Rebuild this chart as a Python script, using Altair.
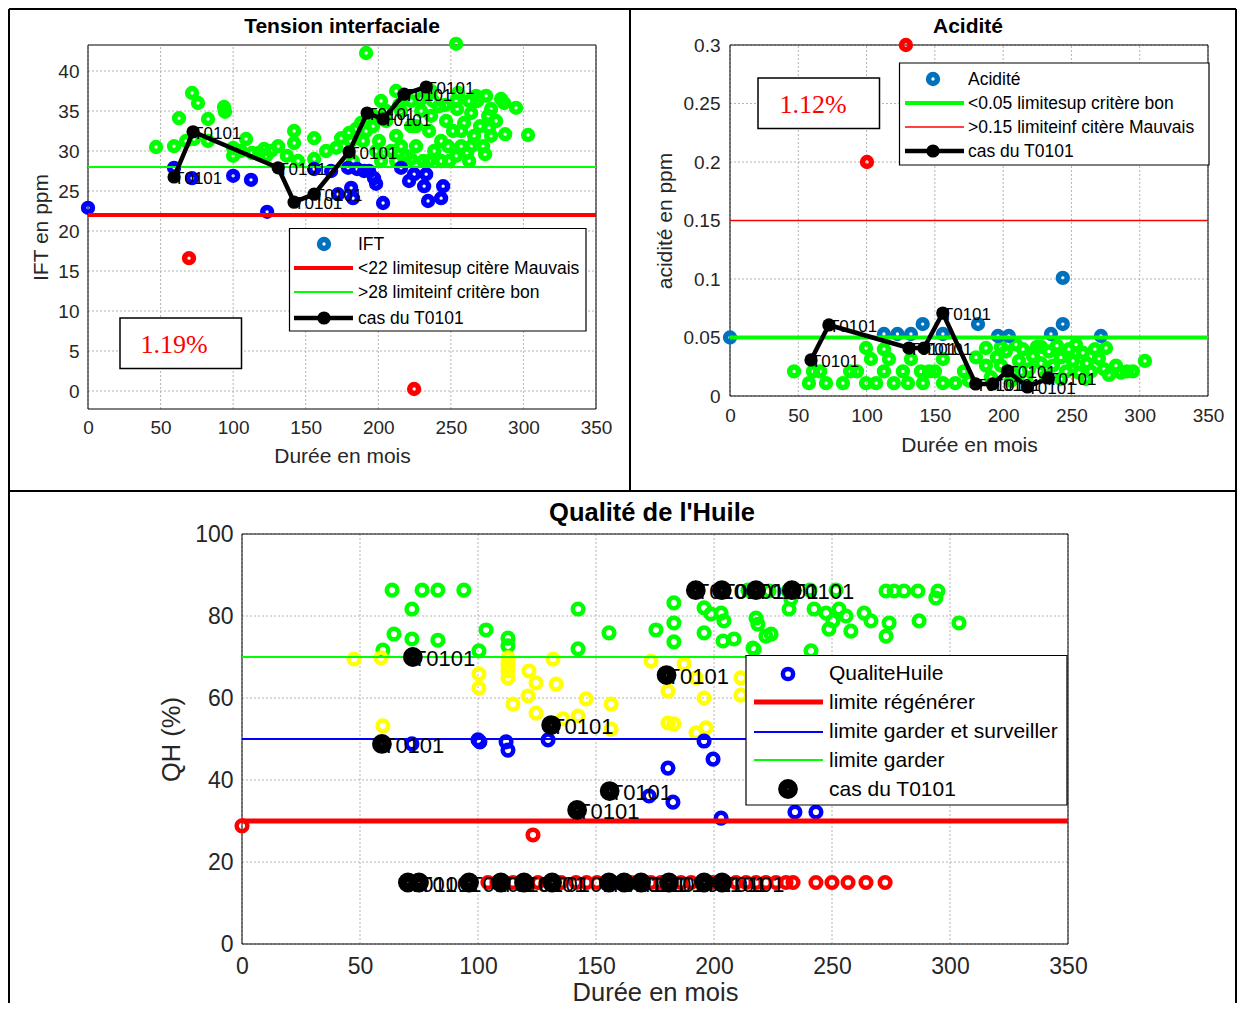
import altair as alt
import pandas as pd

FONT = "Liberation Sans"
SERIF = "Liberation Serif"
GREEN = "#00ff00"
BLUE = "#0000ff"
RED = "#ff0000"
MBLUE = "#0072bd"
YELLOW = "#ffff00"
BLACK = "#000000"
TICK = "#262626"
GRID = "#b4b4b4"

# ---------------- common: transformer T0101 ----------------
t0101_months = [59.3, 72.4, 131.0, 142.0, 155.8, 179.9, 192.3, 203.3, 217.8, 233.0]

# ---------------- Panel 1 : Tension interfaciale ----------------
ift_good_x = [46.9, 59.3, 62.7, 71.7, 75.8, 82.7, 93.7, 94.4, 73.0, 82.7, 67.5, 100.0, 108.9, 113.0,
              121.3, 126.0, 131.0, 142.0, 142.0, 155.8, 144.7, 155.8, 137.0, 105.4, 117.9, 100.0, 122.7,
              174.4, 171.0, 164.0, 191.6, 253.6, 181.0, 184.7, 191.6, 196.4, 200.5, 205.4, 208.8, 212.3,
              215.7, 219.2, 222.6, 226.0, 229.5, 230.9, 235.0, 238.5, 241.9, 243.3, 246.7, 248.8, 251.5,
              254.3, 257.1, 259.1, 261.2, 264.0, 266.0, 268.1, 270.1, 272.2, 274.3, 275.7, 277.7, 273.6,
              281.2, 286.7, 294.9, 287.4, 303.2, 277.7, 262.6, 253.6, 246.0, 237.8, 229.5, 222.6, 214.3,
              205.4, 196.4, 189.5, 198.5, 201.9, 212.3, 222.6, 235.0, 243.3, 253.6, 262.6, 201.9, 212.3,
              236.4, 255.0, 267.4, 284.6, 264.0, 248.0, 215.7, 182.6, 188.1, 179.9, 236.4, 226.0, 257.1,
              276.3]
ift_good_y = [30.5, 30.6, 34.1, 37.25, 36.0, 34.0, 35.5, 34.9, 31.5, 31.25, 31.25, 30.4, 31.5, 29.75,
              30.25, 30.0, 30.6, 32.5, 31.0, 31.6, 28.75, 29.0, 29.4, 30.0, 29.75, 29.4, 29.4,
              31.6, 30.4, 30.0, 42.25, 43.4, 31.25, 32.75, 32.5, 33.1, 31.25, 33.75, 30.0, 31.9,
              35.0, 29.4, 33.1, 30.6, 35.0, 28.75, 32.5, 30.0, 35.6, 31.25, 33.75, 28.75, 32.5,
              35.25, 30.6, 33.5, 29.75, 34.75, 31.9, 36.25, 33.1, 30.6, 36.9, 34.4, 31.9, 29.6,
              33.75, 36.0, 35.4, 32.1, 32.0, 35.25, 36.25, 36.25, 35.75, 36.25, 36.5, 36.25, 35.75,
              35.0, 34.4, 31.25, 30.0, 28.75, 28.75, 29.0, 28.75, 28.75, 29.4, 28.75, 36.25, 37.5,
              37.5, 37.25, 36.9, 36.5, 30.6, 30.6, 30.6, 28.75, 33.5, 32.25, 34.4, 33.1, 32.5,
              32.9]
ift_mid_x = [0.0, 59.3, 71.7, 100.0, 112.3, 123.4, 155.8, 172.3, 181.3, 182.6, 179.2, 190.2, 197.1,
             198.5, 203.3, 215.7, 221.2, 224.7, 231.6, 233.0, 234.3, 243.3, 244.7, 185.4, 193.7, 167.5]
ift_mid_y = [22.9, 27.9, 26.6, 26.9, 26.4, 22.4, 27.75, 24.6, 25.4, 24.1, 27.9, 27.5, 26.6,
             25.9, 23.5, 27.9, 26.25, 27.1, 25.6, 27.1, 23.75, 24.1, 25.6, 27.75, 27.5, 27.5]
ift_bad_x = [69.6, 224.7]
ift_bad_y = [16.6, 0.25]
ift_t0101 = [26.75, 32.4, 27.9, 23.6, 24.6, 29.9, 34.75, 34.0, 37.1, 38.0]
ift_limit_bad = 22
ift_limit_good = 28
ift_ticks = [0, 5, 10, 15, 20, 25, 30, 35, 40]
ift_range = [-2.25, 43.25]

# ---------------- Panel 2 : Acidite ----------------
acid_good_x = [46.9, 57.8, 60.8, 70.3, 82.7, 93.0, 99.6, 99.6, 112.7, 112.7, 120.0, 130.3, 126.6, 139.8,
               145.7, 141.3, 155.9, 155.9, 171.3, 187.4, 103.2, 116.4, 132.5, 175.0, 191.0, 195.5, 198.4,
               202.0, 207.2, 211.6, 214.5, 218.9, 221.8, 224.7, 227.7, 231.3, 233.5, 236.5, 239.4, 242.3,
               246.0, 248.2, 251.1, 255.5, 258.4, 261.3, 264.3, 267.2, 270.1, 273.8, 277.5, 282.6, 286.2,
               290.6, 295.0, 303.8, 205.7, 216.7, 242.3, 260.6, 187.4, 180.1, 198.4, 209.4, 227.7, 253.3,
               275.3, 66.0, 88.0, 107.0, 150.0, 165.0]
acid_good_y = [0.021, 0.011, 0.021, 0.011, 0.011, 0.021, 0.041, 0.011, 0.040, 0.021, 0.011, 0.011, 0.021,
               0.021, 0.021, 0.011, 0.011, 0.0316, 0.021, 0.041, 0.0316, 0.0316, 0.0316, 0.013, 0.016,
               0.033, 0.026, 0.038, 0.020, 0.030, 0.040, 0.023, 0.034, 0.042, 0.028, 0.017, 0.038, 0.026,
               0.043, 0.033, 0.021, 0.040, 0.030, 0.020, 0.037, 0.028, 0.021, 0.040, 0.032, 0.023, 0.018,
               0.026, 0.020, 0.021, 0.021, 0.030, 0.013, 0.0145, 0.0145, 0.0145, 0.026, 0.033, 0.042,
               0.044, 0.042, 0.044, 0.041, 0.021, 0.021, 0.011, 0.021, 0.011]
acid_mid_x = [0.0, 112.7, 122.6, 132.5, 141.1, 155.9, 181.6, 196.2, 204.2, 235.0, 243.7, 243.7, 271.6]
acid_mid_y = [0.05, 0.053, 0.053, 0.053, 0.0615, 0.053, 0.0615, 0.0513, 0.0513, 0.053, 0.0615, 0.101, 0.0513]
acid_bad_x = [128.8, 100.3]
acid_bad_y = [0.3, 0.2]
acid_t0101 = [0.0308, 0.0607, 0.041, 0.041, 0.0709, 0.0103, 0.0103, 0.0214, 0.0077, 0.0154]
acid_limit_good = 0.05
acid_limit_bad = 0.15
acid_ticks = [0, 0.05, 0.1, 0.15, 0.2, 0.25, 0.3]
acid_range = [0, 0.3]

# ---------------- Panel 3 : Qualite de l'Huile ----------------
qh_keep_x = [63.6, 72.0, 76.3, 83.0, 94.0, 64.4, 72.0, 83.0, 59.7, 103.4, 100.4, 112.7, 112.7, 142.4,
             155.5, 142.4, 175.4, 183.0, 183.0, 183.0, 195.8, 198.7, 203.0, 204.2, 195.8, 203.8, 208.5,
             216.5, 217.8, 218.6, 224.2, 222.0, 217.0, 231.8, 232.6, 242.4, 247.5, 253.0, 250.4, 248.7,
             255.9, 258.0, 263.6, 266.5, 274.2, 272.9, 272.9, 276.3, 280.5, 286.4, 294.9, 294.0, 286.9,
             303.8, 241.1, 231.4, 214.4, 223.3, 240.7, 251.7]
qh_keep_y = [86.3, 81.7, 86.3, 86.3, 86.3, 75.6, 74.4, 74.1, 71.7, 76.6, 71.5, 74.6, 72.7, 81.7,
             75.9, 72.0, 76.6, 83.2, 78.3, 73.7, 82.0, 80.5, 80.7, 78.8, 75.9, 73.9, 74.4,
             72.2, 79.5, 78.0, 75.6, 75.1, 71.9, 81.7, 84.1, 81.7, 80.7, 81.7, 78.8, 76.8,
             80.0, 76.3, 80.7, 78.8, 78.3, 75.1, 86.1, 86.1, 86.1, 86.1, 86.1, 84.4, 78.8,
             78.3, 71.5, 86.1, 86.3, 86.1, 86.3, 86.3]
qh_watch_x = [47.5, 58.9, 59.7, 100.4, 100.4, 112.7, 112.7, 112.7, 112.7, 121.6, 124.6, 121.2, 114.8,
              124.6, 131.8, 133.1, 145.8, 156.4, 156.4, 142.4, 136.0, 173.3, 180.5, 180.5, 183.0, 187.3,
              192.4, 192.4, 196.6, 195.8, 211.4, 211.4]
qh_watch_y = [69.5, 69.8, 53.2, 65.9, 62.4, 69.8, 68.3, 66.6, 64.9, 66.6, 63.7, 60.5, 58.5,
              56.3, 69.5, 63.4, 59.8, 58.5, 52.4, 55.6, 54.9, 69.0, 61.7, 53.9, 53.7, 68.3,
              64.9, 51.5, 52.7, 60.0, 64.9, 60.7]
qh_mid_x = [59.3, 72.0, 100.0, 100.8, 111.9, 112.7, 129.7, 172.5, 180.5, 182.6, 195.8, 199.6, 203.0,
            234.3, 243.2]
qh_mid_y = [48.8, 48.8, 49.8, 49.3, 49.3, 47.3, 49.8, 36.1, 42.9, 34.6, 49.5, 45.1, 30.7, 32.2, 32.2]
qh_bad_x = [0.0, 123.3, 97.0, 104.2, 108.0, 114.8, 125.4, 135.2, 141.5, 146.0, 150.4, 164.8, 169.1,
            173.3, 177.5, 186.0, 190.3, 199.6, 205.0, 209.3, 213.6, 217.8, 222.0, 226.3, 230.5, 233.5,
            243.2, 250.0, 256.8, 264.4, 272.5]
qh_bad_y = [28.8, 26.6, 15, 15, 15, 15, 15, 15, 15, 15, 15, 15, 15,
            15, 15, 15, 15, 15, 15, 15, 15, 15, 15, 15, 15, 15,
            15, 15, 15, 15, 15]
qh_t0101 = [48.8, 70.0, 53.4, 32.7, 37.3, 65.6, 86.3, 86.3, 86.3, 86.3]
qh_t0101_extra_x = [70.3, 75.0, 96.2, 109.7, 119.5, 131.4, 155.5, 161.9, 169.1, 180.9, 195.8, 203.4]
qh_t0101_extra_y = [15, 15, 15, 15, 15, 15, 15, 15, 15, 15, 15, 15]
qh_limit_regen = 30
qh_limit_watch = 50
qh_limit_keep = 70
qh_ticks = [0, 20, 40, 60, 80, 100]
qh_range = [0, 100]

month_ticks = [0, 50, 100, 150, 200, 250, 300, 350]
month_range = [0, 350]

dummy = pd.DataFrame({"d": [0]})


def pts_frame(groups):
    xs, ys, cs = [], [], []
    for name, gx, gy in groups:
        xs += list(gx)
        ys += list(gy)
        cs += [name] * len(gx)
    return pd.DataFrame({"x": xs, "y": ys, "cat": cs})


def axis(values, title, orient, offset, lsize, tsize, pad, tx, ty, angle, fmt=None):
    kw = dict(values=values, title=title, orient=orient, offset=offset, grid=False, ticks=False,
              domain=False, labelFont=FONT, labelFontSize=lsize, labelColor=TICK, labelPadding=pad,
              labelFlush=False, labelOverlap=False, titleFont=FONT, titleFontSize=tsize,
              titleFontWeight="normal", titleColor=TICK, titleX=tx, titleY=ty, titleAngle=angle,
              titleAlign="center", titleBaseline="middle")
    if fmt:
        kw["format"] = fmt
    return alt.Axis(**kw)


def txt(s, x, y, size, color=BLACK, font=FONT, weight="normal", align="left"):
    return alt.Chart(dummy).mark_text(text=s, font=font, fontSize=size, fontWeight=weight, color=color,
                                      align=align, baseline="middle").encode(x=alt.value(x), y=alt.value(y))


def hline(x1, x2, y, color, w):
    return alt.Chart(dummy).mark_rule(color=color, strokeWidth=w).encode(
        x=alt.value(x1), x2=alt.value(x2), y=alt.value(y))


def vline(x, y1, y2, color, w):
    return alt.Chart(dummy).mark_rule(color=color, strokeWidth=w).encode(
        x=alt.value(x), y=alt.value(y1), y2=alt.value(y2))


def box(x1, y1, x2, y2, w=1.2):
    return alt.Chart(dummy).mark_rect(fill="white", stroke=BLACK, strokeWidth=w).encode(
        x=alt.value(x1), x2=alt.value(x2), y=alt.value(y1), y2=alt.value(y2))


def marker(x, y, color, size, sw, filled=False):
    return alt.Chart(dummy).mark_point(shape="circle", filled=filled, color=color, size=size,
                                       strokeWidth=sw, opacity=1).encode(x=alt.value(x), y=alt.value(y))


def panel(df_pts, cat_domain, cat_range, ring_size, ring_sw, xs, ys, xax, yax, yticks, yrange,
          limits, t_y, t_line, t_size, t_sw, t_filled, lab_size, extra_t=None):
    X = alt.X("x:Q", scale=xs, axis=xax)
    Y = alt.Y("y:Q", scale=ys, axis=yax)
    grid_style = dict(color=GRID, strokeWidth=1, strokeDash=[2, 2])
    vgrid = pd.DataFrame({"x": month_ticks, "y": [yrange[0]] * len(month_ticks),
                          "yy": [yrange[1]] * len(month_ticks)})
    hgrid = pd.DataFrame({"y": yticks, "x": [month_range[0]] * len(yticks),
                          "xx": [month_range[1]] * len(yticks)})
    frame = pd.DataFrame({"x": [month_range[0]], "xx": [month_range[1]],
                          "y": [yrange[0]], "yy": [yrange[1]]})
    layers = [
        alt.Chart(vgrid).mark_rule(**grid_style).encode(x=X, y=Y, y2="yy:Q"),
        alt.Chart(hgrid).mark_rule(**grid_style).encode(x=X, x2="xx:Q", y=Y),
        alt.Chart(frame).mark_rect(filled=False, stroke=BLACK, strokeWidth=1).encode(
            x=X, x2="xx:Q", y=Y, y2="yy:Q"),
        alt.Chart(df_pts).mark_point(shape="circle", filled=False, size=ring_size,
                                     strokeWidth=ring_sw, opacity=1).encode(
            x=X, y=Y, color=alt.Color("cat:N", scale=alt.Scale(domain=cat_domain, range=cat_range),
                                      legend=None)),
    ]
    for val, col, w in limits:
        lim = pd.DataFrame({"y": [val], "x": [month_range[0]], "xx": [month_range[1]]})
        layers.append(alt.Chart(lim).mark_rule(color=col, strokeWidth=w).encode(x=X, x2="xx:Q", y=Y))
    dft = pd.DataFrame({"x": t0101_months, "y": t_y})
    if t_line:
        layers.append(alt.Chart(dft).mark_line(color=BLACK, strokeWidth=4.5).encode(x=X, y=Y))
    frames = [dft] + ([extra_t] if extra_t is not None else [])
    for f in frames:
        layers.append(alt.Chart(f).mark_point(shape="circle", filled=t_filled, color=BLACK, size=t_size,
                                              strokeWidth=t_sw, opacity=1).encode(x=X, y=Y))
        layers.append(alt.Chart(f).mark_text(text="T0101", font=FONT, fontSize=lab_size, color=BLACK,
                                             align="left", baseline="middle", dy=2).encode(x=X, y=Y))
    return layers


# Figure geometry (pixels, origin = top-left of the first plot area)
# Panel 1 plot: x 0..508, y 0..364 ; Panel 2: x 642..1120, y 0..351 ; Panel 3: x 154..980, y 489..899
W, H = 1120, 899

# ---------- Panel 1 ----------
df1 = pts_frame([("bon", ift_good_x, ift_good_y), ("moyen", ift_mid_x, ift_mid_y),
                 ("mauvais", ift_bad_x, ift_bad_y)])
xs1 = alt.Scale(domain=month_range, range=[0, 508], nice=False, zero=False)
ys1 = alt.Scale(domain=ift_range, range=[364, 0], nice=False, zero=False)
ax1x = axis(month_ticks, "Durée en mois", "bottom", -535, 19, 21, 9, 254, 47, 0)
ax1y = axis(ift_ticks, "IFT en ppm", "left", 0, 19, 21, 9, -47, 182, 270)
p1 = panel(df1, ["bon", "moyen", "mauvais"], [GREEN, BLUE, RED], 78, 5.5, xs1, ys1, ax1x, ax1y,
           ift_ticks, ift_range, [(ift_limit_bad, RED, 4), (ift_limit_good, GREEN, 2)],
           ift_t0101, True, 175, 1, True, 17)
p1 += [
    txt("Tension interfaciale", 254, -18, 21, weight="bold", align="center"),
    box(201.5, 183.5, 498, 286),
    marker(236, 199, MBLUE, 78, 5.5),
    hline(206, 265, 223, RED, 4),
    hline(206, 265, 247, GREEN, 2),
    hline(206, 265, 273, BLACK, 4.5),
    marker(236, 273, BLACK, 175, 1, True),
    txt("IFT", 270, 200, 17.5),
    txt("<22 limitesup citère Mauvais", 270, 224, 17.5),
    txt(">28 limiteinf critère bon", 270, 248, 17.5),
    txt("cas du T0101", 270, 274, 17.5),
    box(32, 273, 153.5, 323.5, 1.5),
    txt("1.19%", 86, 300, 26, color=RED, font=SERIF, align="center"),
]
layer1 = alt.layer(*p1)

# ---------- Panel 2 ----------
df2 = pts_frame([("bon", acid_good_x, acid_good_y), ("moyen", acid_mid_x, acid_mid_y),
                 ("mauvais", acid_bad_x, acid_bad_y)])
xs2 = alt.Scale(domain=month_range, range=[642, 1120], nice=False, zero=False)
ys2 = alt.Scale(domain=acid_range, range=[351, 0], nice=False, zero=False)
ax2x = axis(month_ticks, "Durée en mois", "bottom", -548, 19, 21, 10, 881, 49, 0)
ax2y = axis(acid_ticks, "acidité en ppm", "left", -642, 19, 21, 10, -65, 175.5, 270, fmt="~g")
p2 = panel(df2, ["bon", "moyen", "mauvais"], [GREEN, MBLUE, RED], 78, 5.5, xs2, ys2, ax2x, ax2y,
           acid_ticks, acid_range, [(acid_limit_good, GREEN, 4), (acid_limit_bad, RED, 1.5)],
           acid_t0101, True, 175, 1, True, 17)
p2 += [
    txt("Acidité", 880, -18, 21, weight="bold", align="center"),
    box(811.5, 18, 1121, 120),
    marker(845, 34, MBLUE, 78, 5.5),
    hline(817, 876, 58, GREEN, 4),
    hline(817, 876, 82, RED, 1.5),
    hline(817, 876, 106, BLACK, 4.5),
    marker(845, 106, BLACK, 175, 1, True),
    txt("Acidité", 880, 35, 17.5),
    txt("<0.05 limitesup critère bon", 880, 59, 17.5),
    txt(">0.15 limiteinf citère Mauvais", 880, 83, 17.5),
    txt("cas du T0101", 880, 107, 17.5),
    box(670, 33, 791.5, 83.5, 1.5),
    txt("1.12%", 725, 60, 26, color=RED, font=SERIF, align="center"),
]
layer2 = alt.layer(*p2)

# ---------- Panel 3 ----------
df3 = pts_frame([("garder", qh_keep_x, qh_keep_y), ("surveiller", qh_watch_x, qh_watch_y),
                 ("moyen", qh_mid_x, qh_mid_y), ("regenerer", qh_bad_x, qh_bad_y)])
xs3 = alt.Scale(domain=month_range, range=[154, 980], nice=False, zero=False)
ys3 = alt.Scale(domain=qh_range, range=[899, 489], nice=False, zero=False)
ax3x = axis(month_ticks, "Durée en mois", "bottom", 0, 23, 25.5, 11, 567, 48, 0)
ax3y = axis(qh_ticks, "QH (%)", "left", -154, 23, 25.5, 9, -71, 694, 270)
extra = pd.DataFrame({"x": qh_t0101_extra_x, "y": qh_t0101_extra_y})
p3 = panel(df3, ["garder", "surveiller", "moyen", "regenerer"], [GREEN, YELLOW, BLUE, RED],
           113, 4.5, xs3, ys3, ax3x, ax3y, qh_ticks, qh_range,
           [(qh_limit_regen, RED, 5), (qh_limit_watch, BLUE, 2), (qh_limit_keep, GREEN, 2)],
           qh_t0101, False, 106, 9.5, False, 22, extra_t=extra)
p3 += [
    txt("Qualité de l'Huile", 564, 468, 25.5, weight="bold", align="center"),
    box(658, 610.5, 979, 760),
    marker(700, 629, BLUE, 105, 4.5),
    hline(666, 735, 657, RED, 5),
    hline(666, 735, 687, BLUE, 2),
    hline(666, 735, 715, GREEN, 2),
    marker(700, 744, BLACK, 106, 9.5),
    txt("QualiteHuile", 741, 629, 21),
    txt("limite régénérer", 741, 658, 21),
    txt("limite garder et surveiller", 741, 687, 21),
    txt("limite garder", 741, 716, 21),
    txt("cas du T0101", 741, 745, 21),
]
layer3 = alt.layer(*p3)

# ---------- figure frame (open at the bottom, as in the cropped original) ----------
frame_layers = [
    hline(-79, 1148, -36, BLACK, 2),
    hline(-79, 1148, 446, BLACK, 2),
    vline(-79, -36, 958, BLACK, 2),
    vline(1148, -36, 958, BLACK, 2),
    vline(542, -36, 446, BLACK, 2),
]

chart = alt.layer(layer1, layer2, layer3, *frame_layers).resolve_scale(
    x="independent", y="independent", color="independent").resolve_axis(
    x="independent", y="independent").properties(width=W, height=H, padding=0).configure_view(
    stroke="transparent")

chart.save("out.html", embed_options={"renderer": "svg", "actions": False})
